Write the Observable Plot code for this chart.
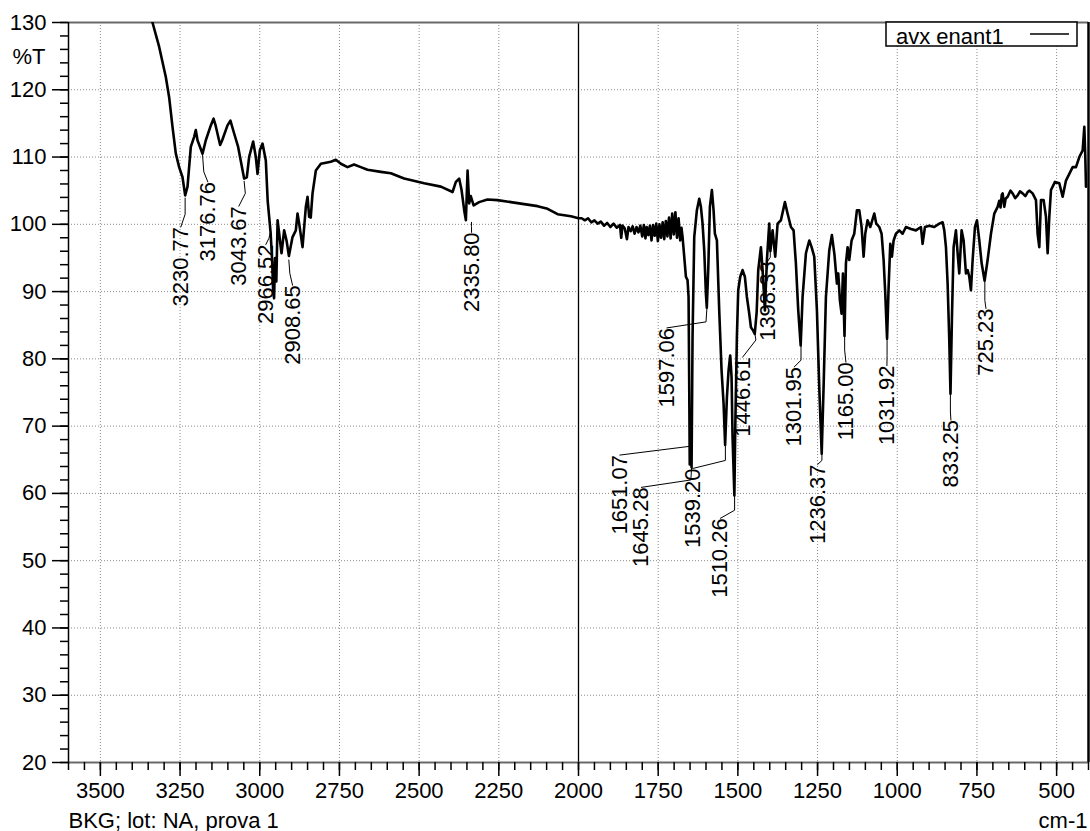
<!DOCTYPE html>
<html>
<head>
<meta charset="utf-8">
<script src="https://cdn.jsdelivr.net/npm/d3@7"></script>
<script src="https://cdn.jsdelivr.net/npm/@observablehq/plot@0.6"></script>
<style>
  body { margin: 0; background: #fff; }
  #chart { width: 1090px; height: 831px; }
</style>
</head>
<body>
<div id="chart"></div>
<script>
// ---- Spectrum: [wavenumber cm-1, %T] ----
const spectrumHigh = [
  [3600,162],[3500,152],[3420,142],[3380,137],[3350,132],[3336.5,130],[3315.7,126.4],[3294.7,121.9],
  [3284.3,118.9],[3273.7,114.5],[3263.3,110.5],[3252.9,108.5],[3242.3,107.0],[3234,104.3],[3226.6,105.6],
  [3216.3,111.5],[3205.8,113.0],[3200.6,114.0],[3195.3,112.5],[3179.5,110.5],[3169.2,112.5],[3153.5,114.7],
  [3145,115.7],[3138.5,114.7],[3124.3,111.8],[3117.8,112.5],[3101.2,114.7],[3092,115.4],[3080.3,113.5],
  [3067.8,111.5],[3049,106.8],[3040.6,107.0],[3033.3,110.0],[3020.7,112.3],[3012.3,110.0],[3007,107.5],
  [2999.7,111.0],[2991.3,112.0],[2981,109.5],[2975,103.4],[2966,98.8],[2961,94.5],[2958,90.0],[2955,89.0],
  [2952,95.0],[2948,91.5],[2944,100.6],[2939,98.6],[2931.7,95.7],[2923.5,99.1],[2916,97.6],[2908.5,95.3],
  [2897.2,98.1],[2886.8,99.1],[2881.5,101.6],[2876.3,100.1],[2865.8,96.6],[2860.6,99.6],[2855.4,102.6],
  [2850,104.1],[2845,101.1],[2840,101.0],[2834.4,104.6],[2824,108.0],[2808.3,109.0],[2777,109.3],
  [2761.3,109.6],[2745.6,109.0],[2724.6,108.5],[2704,108.9],[2683,108.5],[2662,108.1],[2620,107.8],
  [2588.7,107.6],[2557.3,107.0],[2546.9,106.8],[2484.2,106.1],[2431.8,105.6],[2395.1,104.8],[2384.7,106.3],
  [2374.4,106.8],[2366.9,105.1],[2358.6,102.1],[2353.3,100.6],[2348,108.0],[2343,103.1],[2338,104.2],
  [2329,102.8],[2311.7,103.3],[2285.6,103.7],[2254.3,103.6],[2212.2,103.3],[2170.4,103.0],[2128.3,102.7],
  [2097,102.3],[2065.6,101.5],[2023.8,101.2],[2000,100.9]
];
const spectrumMid = [
  [1990,100.9],[1980,100.6],[1970,100.9],[1960,100.3],[1950,100.6],[1940,100.1],[1930,100.4],[1920,99.8],
  [1910,100.2],[1900,99.6],[1890,100.1],[1880,99.5],[1870,99.9],[1866,98.0],[1862,99.8],[1855,99.4],
  [1848,97.8],[1843,99.6],[1836,99.0],[1830,99.7],[1824,98.6],[1818,99.6],[1812,98.8],[1806,99.8],
  [1800,98.2],[1795,99.9],[1790,97.9],[1786,99.6],[1781,98.4],[1776,99.8],[1771,97.6],[1766,99.9],
  [1761,98.3],[1756,100.1],[1751,97.5],[1746,100.0],[1741,98.0],[1736,100.3],[1731,97.8],[1726,100.5],
  [1721,98.2],[1716,101.0],[1711,97.9],[1706,101.6],[1701,98.5],[1696,101.8],[1691,98.0],[1686,100.9],
  [1681,97.6],[1677,99.5],[1673.5,98.1],[1668.3,95.2],[1663,92.2],[1657.9,91.7],[1654.7,89.2],[1652.5,75],
  [1651,64.3],[1648.5,71],[1646.5,68],[1645.3,63.9],[1643.5,75],[1642.2,83.3],[1636.9,98.1],[1628.6,102.1],
  [1621.2,103.8],[1616,102.6],[1610.8,100.1],[1605.5,96.1],[1600.3,89.7],[1597.5,87.6],[1593,93.2],
  [1587.8,102.6],[1581.5,105.1],[1576.3,102.1],[1572.1,98.6],[1565.8,97.6],[1558.5,87.2],[1551.2,78.3],
  [1544.9,73.4],[1540,67.2],[1534.4,74.3],[1529.2,78.3],[1524,80.5],[1519.8,77.3],[1516.7,68.4],[1511,59.7],
  [1508.3,69.4],[1503.1,83.3],[1498.9,90.2],[1492.6,92.2],[1485.3,93.2],[1478,92.2],[1471.7,89.2],
  [1464.3,86.7],[1459.1,84.7],[1452,84.2],[1447,83.7],[1441,87.0],[1436.1,93.2],[1427.7,96.6],[1422.5,93.2],
  [1415.2,87.2],[1408.9,94.7],[1401.6,100.1],[1398,96.0],[1391.1,99.1],[1382.8,95.2],[1375.4,100.1],
  [1365,100.6],[1352.4,103.3],[1344.1,101.6],[1333.6,99.6],[1325.2,99.1],[1318,94.2],[1310.6,87.2],
  [1303,82.0],[1297,89.2],[1286.5,95.7],[1276,97.6],[1268.7,96.6],[1260.4,95.2],[1252,87.2],[1244.7,75.8],
  [1237,65.9],[1231.1,75.8],[1223.8,89.2],[1213.3,96.1],[1205,98.4]
];
const spectrumLow = [
  [1197,95.5],[1189.3,91.2],[1185.1,92.7],[1179.9,88.7],[1174.6,86.7],[1170.4,92.7],[1165.5,83.4],[1161,94.2],
  [1155.8,96.6],[1150.6,94.7],[1143.2,97.6],[1134.9,98.6],[1126.5,102.1],[1119.2,102.1],[1111.9,99.6],
  [1105.6,95.2],[1100.4,98.6],[1093.1,100.6],[1084.7,99.6],[1078.4,100.6],[1072.1,101.6],[1065.8,100.1],
  [1056.4,99.6],[1049.1,98.6],[1042.8,94.7],[1037.6,89.7],[1032,83.0],[1027.1,90.7],[1021.9,97.1],
  [1016.7,95.2],[1011.4,97.6],[1004.1,98.6],[993.6,99.1],[983.2,98.6],[972.7,99.6],[957.1,99.3],[941.4,99.1],
  [925.7,99.6],[920.5,97.1],[913.1,99.6],[899.5,99.8],[883.8,99.6],[868.1,100.1],[857.7,100.3],[852.5,99.1],
  [847.2,96.6],[842,91.2],[836.8,82.8],[833,74.8],[828.4,86.2],[823.2,96.6],[815.9,99.1],[810.6,95.7],
  [805.4,92.7],[798.1,99.1],[791.8,97.6],[784.5,92.7],[779.2,93.2],[774,92.2],[768.8,90.2],[763.5,94.7],
  [756.2,99.6],[749.9,100.6],[742.6,97.6],[735.2,94.2],[726,91.6],[716.5,94.7],[706,98.6],[695.5,101.6],
  [685.1,102.6],[680,103.5],[676,102.5],[672,104.4],[669.4,104.6],[664.2,102.6],[660,103.8],[653.7,104.1],
  [645,105.0],[638.1,104.6],[630,103.9],[622.3,104.3],[615,104.9],[606.7,104.6],[598,104.2],[591,104.8],
  [585,105.0],[575.3,104.6],[564.8,103.6],[559.6,98.6],[554.4,96.6],[549.1,103.6],[540.8,103.6],
  [533.4,101.1],[528.2,95.7],[523,101.1],[517.7,105.1],[505.2,106.3],[491.6,106.1],[481.1,104.1],
  [470.7,106.5],[460.2,107.5],[449.7,108.5],[439.3,108.5],[428.8,110.0],[418.3,111.0],[413.1,114.5],
  [410,110.0],[407.9,105.6]
];

// ---- Peak annotations (data units) ----
const peakLabels = ["3230.77","3176.76","3043.67","2966.52","2908.65","2335.80","1651.07","1645.28","1539.20",
  "1510.26","1597.06","1446.61","1398.33","1301.95","1236.37","1165.00","1031.92","833.25","725.23"];
const peakWn  = [3234.1,3179.5,3049.0,2966.8,2908.8,2335.8,1651.07,1645.28,1539.2,1510.26,1597.06,1446.61,1398.33,1301.95,1236.37,1165,1031.92,833.25,725.23];
const peakT   = [103.9,110.3,106.4,98.7,94.7,100.3,67.0,63.9,67.0,59.6,87.6,83.7,95.9,81.9,66.1,83.4,82.9,74.7,91.4];
const elbowWn = [3234.1,3175.5,3045.2,2971.5,2905.6,2335.8,1651.07,1647.4,1539.2,1510.26,1600,1443.4,1398.33,1301.95,1236.37,1165,1031.92,833.25,725.23];
const elbowT  = [101.5,107.8,104.6,97.9,92.7,99.7,67.0,62.0,64.9,57.5,85.5,82.8,95.1,79.8,64.9,81.3,80.5,72.1,88.7];
const labelWn = [3247.6,3162.9,3065.6,2980.9,2897.1,2335.5,1870.2,1802.7,1642,1554.8,1722.7,1485.2,1406.7,1323.2,1249.8,1161,1032.4,831.6,721.7];
const labelT  = [99.6,106.3,102.7,97.0,90.95,98.8,65.7,60.9,63.7,56.3,84.6,80.25,94.5,78.8,64.3,79.5,79.0,70.9,87.5];

// ---- Axis ticks and texts ----
const xMajorTicks = [3500,3250,3000,2750,2500,2250,2000,1750,1500,1250,1000,750,500];
const xMinorTicks = d3.range(3600, 399, -50);
const yMajorTicks = [20,30,40,50,60,70,80,90,100,110,120,130];
const yMinorTicks = d3.range(20, 131, 2);
const xDomain = [3600, 400];
const yDomain = [20, 130];
const seriesName = "avx enant1";
const yUnit = "%T";
const xUnit = "cm-1";
const footnote = "BKG; lot: NA, prova 1";

// ---- Build ----
const spectrum = [...spectrumHigh, ...spectrumMid, ...spectrumLow].map(([w, t]) => ({w, t}));
const leaders = peakLabels.flatMap((label, i) => [
  {id: i, w: peakWn[i], t: peakT[i]},
  {id: i, w: elbowWn[i], t: elbowT[i]},
  {id: i, w: labelWn[i], t: labelT[i]}
]);
const peaks = peakLabels.map((label, i) => ({label, w: labelWn[i], t: labelT[i]}));

const font = "'Liberation Sans', Arial, Helvetica, sans-serif";
const fmt = d3.format("d");

const plot = Plot.plot({
  width: 1090,
  height: 831,
  marginLeft: 68,
  marginRight: 2,
  marginTop: 22,
  marginBottom: 69,
  style: {fontFamily: font, fontSize: "22px", color: "#000", background: "#fff", overflow: "visible"},
  x: {type: "linear", domain: xDomain},
  y: {type: "linear", domain: yDomain},
  marks: [
    Plot.gridX(xMajorTicks, {stroke: "#8a8a8a", strokeOpacity: 1, strokeDasharray: "1,2", strokeWidth: 1}),
    Plot.gridY(yMajorTicks.filter(d => d > 20 && d < 130), {stroke: "#8a8a8a", strokeOpacity: 1, strokeDasharray: "1,2", strokeWidth: 1}),
    Plot.ruleX([2000], {stroke: "#000", strokeWidth: 1.3}),
    Plot.ruleY([130, 20], {stroke: "#6a6a6a", strokeWidth: 2}),
    Plot.ruleX([3600], {stroke: "#000", strokeWidth: 1.5}),
    Plot.ruleX([400], {stroke: "#000", strokeWidth: 2.5}),
    Plot.line(spectrum, {x: "w", y: "t", stroke: "#000", strokeWidth: 2.6, clip: true, strokeLinejoin: "round"}),
    Plot.line(leaders, {x: "w", y: "t", z: "id", stroke: "#000", strokeWidth: 1}),
    Plot.text(peaks, {x: "w", y: "t", text: "label", rotate: -90, textAnchor: "end", lineAnchor: "middle", fontSize: 22, fill: "#000"}),
    Plot.axisY({ticks: yMajorTicks, tickSize: 16, tickPadding: 6, tickFormat: fmt, label: null, fontSize: 22, strokeWidth: 1.5}),
    Plot.axisY({ticks: yMinorTicks, tickSize: 8, tickFormat: () => "", label: null, strokeWidth: 1.5}),
    Plot.axisX({ticks: xMajorTicks, tickSize: 14, tickPadding: 6, tickFormat: fmt, label: null, fontSize: 22, strokeWidth: 1.5}),
    Plot.axisX({ticks: xMinorTicks, tickSize: 8, tickFormat: () => "", label: null, strokeWidth: 1.5}),
    Plot.text([yUnit], {frameAnchor: "top-left", dx: -56, dy: 34, textAnchor: "start", lineAnchor: "middle", fontSize: 22, fill: "#000"}),
    Plot.text([footnote], {frameAnchor: "bottom-left", dx: 0, dy: 58, textAnchor: "start", lineAnchor: "middle", fontSize: 22, fill: "#000"}),
    Plot.text([xUnit], {frameAnchor: "bottom-right", dx: -1, dy: 58, textAnchor: "end", lineAnchor: "middle", fontSize: 22, fill: "#000"})
  ]
});

// Legend box (top right, inside frame)
const svg = d3.select(plot);
const lg = svg.append("g").attr("font-family", font).attr("font-size", 22).attr("text-anchor", "start");
lg.append("rect").attr("x", 886).attr("y", 22).attr("width", 191).attr("height", 24)
  .attr("fill", "#fff").attr("stroke", "#000").attr("stroke-width", 1.5);
lg.append("text").attr("x", 896).attr("y", 43.5).attr("fill", "#000").attr("text-anchor", "start").text(seriesName);
lg.append("line").attr("x1", 1030).attr("x2", 1069).attr("y1", 34).attr("y2", 34)
  .attr("stroke", "#000").attr("stroke-width", 1.5);

document.getElementById("chart").append(plot);
</script>
</body>
</html>
